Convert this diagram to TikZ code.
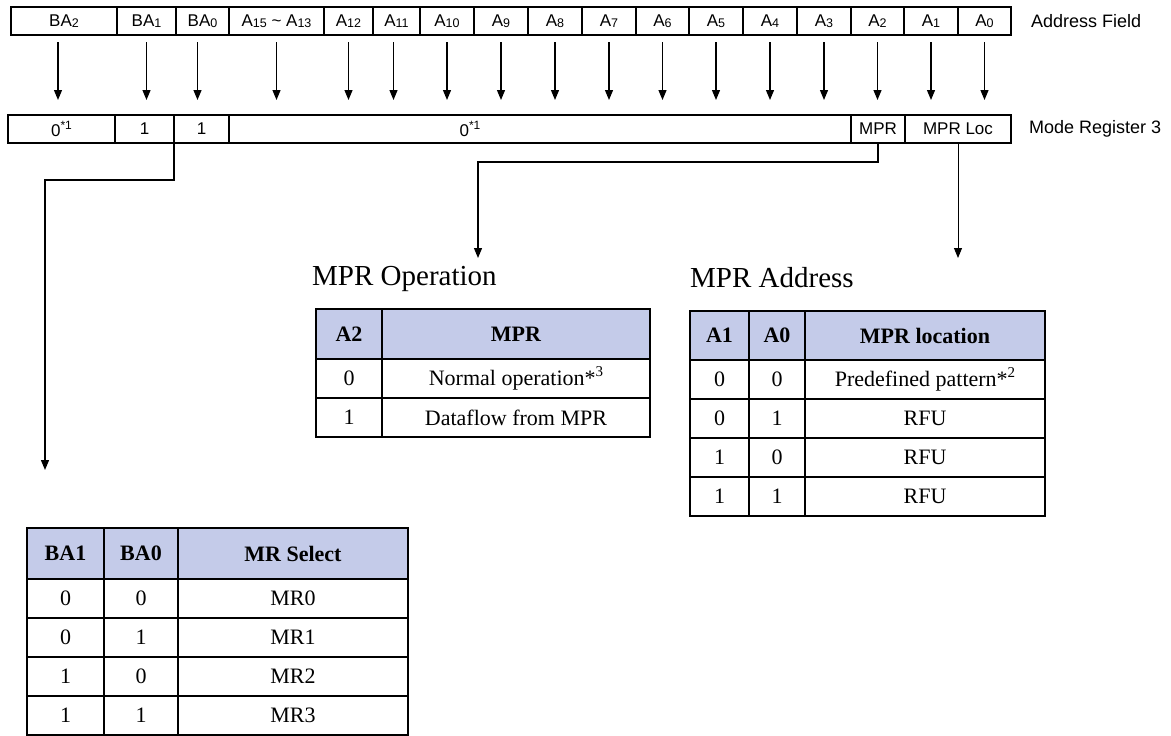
\documentclass[tikz,border=0pt]{standalone}
\usepackage{fontspec}
\setmainfont{Liberation Serif}
\setsansfont{Liberation Sans}
\usetikzlibrary{arrows.meta}
\definecolor{HeadBlue}{RGB}{196,203,233}

\newcommand{\lo}[1]{\raisebox{-0.15ex}{\fontsize{12.5}{12.5}\selectfont #1}}
\newcommand{\hi}[1]{\raisebox{0.75ex}{\fontsize{12}{12}\selectfont #1}}
\newcommand{\tabhi}[1]{\raisebox{0.85ex}{\fontsize{15}{15}\selectfont #1}}

\tikzset{
    fieldcell/.style={draw, line width=1.2pt, minimum height=28pt, inner sep=0pt, outer sep=0pt,
        font=\sffamily\fontsize{17}{17}\selectfont},
    sidelabel/.style={anchor=west, inner sep=0pt, font=\sffamily\fontsize{18}{18}\selectfont},
    fieldarrow/.style={line width=1.2pt, -{Triangle[width=8pt,length=10pt]}},
    tabtitle/.style={anchor=base west, inner sep=0pt, font=\fontsize{29}{29}\selectfont},
    tabcell/.style={draw, line width=1.1pt, inner sep=0pt, outer sep=0pt, font=\fontsize{22}{22}\selectfont},
    tabhead/.style={tabcell, fill=HeadBlue, font=\fontsize{22}{22}\selectfont\bfseries}
}

\begin{document}
\begin{tikzpicture}[x=1pt, y=-1pt]
    \useasboundingbox (0,0) rectangle (1171,736);

    % address field
    \foreach \l/\r/\o/\t [count=\i] in {11/117/-6/BA\lo{2}, 117/176/0/BA\lo{1}, 176/229/-5/BA\lo{0},
        229/324/0/A\lo{15} \textasciitilde{} A\lo{13}, 324/373/0/A\lo{12}, 373/420/-3/A\lo{11},
        420/474/0/A\lo{10}, 474/528/0/A\lo{9}, 528/582/0/A\lo{8}, 582/636/0/A\lo{7}, 636/689/0/A\lo{6},
        689/743/0/A\lo{5}, 743/797/0/A\lo{4}, 797/851/0/A\lo{3}, 851/904/0/A\lo{2}, 904/958/0/A\lo{1},
        958/1011/0/A\lo{0}} {
        \node[fieldcell, minimum width={(\r-\l)*1pt}] (f\i) at ({(\l+\r)/2},21) {\t};
        \draw[fieldarrow] ([xshift=\o pt, yshift=-7pt]f\i.south) -- ([xshift=\o pt, yshift=-65pt]f\i.south);
    }
    \node[sidelabel] (addrlabel) at (1031,21) {Address Field};

    % mode register 3
    \foreach \l/\r/\t [count=\i] in {8/115/{0\hi{*1}}, 115/174/1, 174/229/1, 229/851/{},
        851/905/MPR, 905/1011/MPR Loc} {
        \node[fieldcell, minimum width={(\r-\l)*1pt}] (m\i) at ({(\l+\r)/2},129) {\t};
    }
    \node[inner sep=0pt, font=\sffamily\fontsize{17}{17}\selectfont] (m4text) at (470,129) {0\hi{*1}};
    \node[sidelabel] (mrlabel) at (1029,129) {Mode Register 3};

    % links to the tables
    \coordinate (selhead) at (45,470);
    \coordinate (ophead) at (478,258);
    \draw[fieldarrow] (m2.south east) -- ++(0,37) -| (selhead);
    \draw[fieldarrow] (m5.south) -- ++(0,19) -| (ophead);
    \draw[fieldarrow, line width=0.9pt] (m6.south) -- (m6.south |- ophead);

    % MPR operation
    \node[tabtitle] (optitle) at (312,285) {MPR Operation};
    \node[tabhead, minimum width=66pt, minimum height=50pt] (oph1) at (349,334) {A2};
    \node[tabhead, minimum width=268pt, minimum height=50pt] (oph2) at (516,334) {MPR};
    \foreach \a/\b [count=\r] in {0/Normal operation*\tabhi{3}, 1/Dataflow from MPR} {
        \pgfmathsetmacro{\y}{339.5+39*\r}
        \node[tabcell, minimum width=66pt, minimum height=39pt] (op\r a) at (349,\y) {\a};
        \node[tabcell, minimum width=268pt, minimum height=39pt] (op\r b) at (516,\y) {\b};
    }

    % MPR address
    \node[tabtitle] (adtitle) at (690,287) {MPR Address};
    \node[tabhead, minimum width=59pt, minimum height=49pt] (adh1) at (719.5,335.5) {A1};
    \node[tabhead, minimum width=56pt, minimum height=49pt] (adh2) at (777,335.5) {A0};
    \node[tabhead, minimum width=240pt, minimum height=49pt] (adh3) at (925,335.5) {MPR location};
    \foreach \a/\b/\c [count=\r] in {0/0/Predefined pattern*\tabhi{2}, 0/1/RFU, 1/0/RFU, 1/1/RFU} {
        \pgfmathsetmacro{\y}{340.5+39*\r}
        \node[tabcell, minimum width=59pt, minimum height=39pt] (ad\r a) at (719.5,\y) {\a};
        \node[tabcell, minimum width=56pt, minimum height=39pt] (ad\r b) at (777,\y) {\b};
        \node[tabcell, minimum width=240pt, minimum height=39pt] (ad\r c) at (925,\y) {\c};
    }

    % MR select
    \node[tabhead, minimum width=77pt, minimum height=51pt] (selh1) at (65.5,553.5) {BA1};
    \node[tabhead, minimum width=74pt, minimum height=51pt] (selh2) at (141,553.5) {BA0};
    \node[tabhead, minimum width=230pt, minimum height=51pt] (selh3) at (293,553.5) {MR Select};
    \foreach \a/\b/\c [count=\r] in {0/0/MR0, 0/1/MR1, 1/0/MR2, 1/1/MR3} {
        \pgfmathsetmacro{\y}{559.5+39*\r}
        \node[tabcell, minimum width=77pt, minimum height=39pt] (sel\r a) at (65.5,\y) {\a};
        \node[tabcell, minimum width=74pt, minimum height=39pt] (sel\r b) at (141,\y) {\b};
        \node[tabcell, minimum width=230pt, minimum height=39pt] (sel\r c) at (293,\y) {\c};
    }
\end{tikzpicture}
\end{document}
